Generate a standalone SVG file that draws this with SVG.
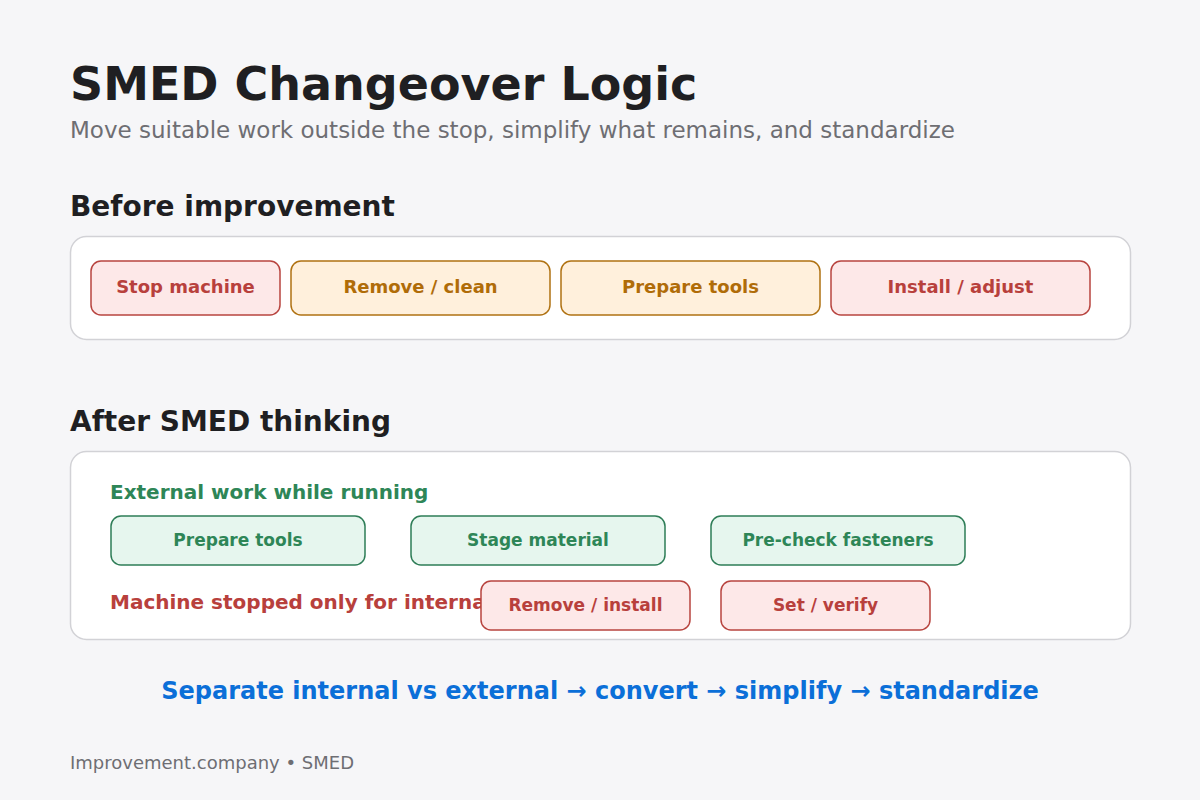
<svg xmlns="http://www.w3.org/2000/svg" width="1200" height="800" viewBox="0 0 1200 800">
<style>
text{font-family:"DejaVu Sans","Liberation Sans",sans-serif}
.title{font-size:46px;font-weight:bold;fill:#1f1f22}
.sub{font-size:23px;fill:#6e6e73}
.h2{font-size:28px;font-weight:bold;fill:#1f1f22}
.panel{fill:#ffffff;stroke:#d2d2d6;stroke-width:1.5}
.red rect{fill:#fde8e8;stroke:#b8443f;stroke-width:1.5}
.red text{fill:#b8403c}
.amb rect{fill:#fff0dc;stroke:#b07212;stroke-width:1.5}
.amb text{fill:#b06c08}
.grn rect{fill:#e6f6ee;stroke:#2e7d57;stroke-width:1.5}
.grn text{fill:#2e8657}
.lbl{font-size:18px;font-weight:bold;text-anchor:middle}
.lbl2{font-size:17px;font-weight:bold;text-anchor:middle}
.cap{font-size:20px;font-weight:bold}
</style>
<rect x="0" y="0" width="1200" height="800" fill="#f6f6f8"/>
<text class="title" x="70" y="100">SMED Changeover Logic</text>
<text class="sub" x="70" y="138">Move suitable work outside the stop, simplify what remains, and standardize</text>

<text class="h2" x="70" y="216">Before improvement</text>
<rect class="panel" x="70.5" y="236.5" width="1060" height="103" rx="16"/>
<g id="b-stop" class="red"><rect x="91" y="261" width="189" height="54" rx="10"/><text class="lbl" x="185.5" y="293">Stop machine</text></g>
<g id="b-remove" class="amb"><rect x="291" y="261" width="259" height="54" rx="10"/><text class="lbl" x="420.5" y="293">Remove / clean</text></g>
<g id="b-prepare" class="amb"><rect x="561" y="261" width="259" height="54" rx="10"/><text class="lbl" x="690.5" y="293">Prepare tools</text></g>
<g id="b-install" class="red"><rect x="831" y="261" width="259" height="54" rx="10"/><text class="lbl" x="960.5" y="293">Install / adjust</text></g>

<text class="h2" x="70" y="431">After SMED thinking</text>
<rect class="panel" x="70.5" y="451.5" width="1060" height="188" rx="16"/>
<text class="cap" x="110" y="499" fill="#2e8657">External work while running</text>
<g id="a-prepare" class="grn"><rect x="111" y="516" width="254" height="49" rx="10"/><text class="lbl2" x="238" y="546">Prepare tools</text></g>
<g id="a-stage" class="grn"><rect x="411" y="516" width="254" height="49" rx="10"/><text class="lbl2" x="538" y="546">Stage material</text></g>
<g id="a-precheck" class="grn"><rect x="711" y="516" width="254" height="49" rx="10"/><text class="lbl2" x="838" y="546">Pre-check fasteners</text></g>
<text class="cap" x="110" y="609" fill="#b8403c">Machine stopped only for internal work</text>
<g id="a-remove" class="red"><rect x="481" y="581" width="209" height="49" rx="10"/><text class="lbl2" x="585.5" y="611">Remove / install</text></g>
<g id="a-set" class="red"><rect x="721" y="581" width="209" height="49" rx="10"/><text class="lbl2" x="825.5" y="611">Set / verify</text></g>
<g id="connectors"/>

<text x="600" y="699" text-anchor="middle" font-size="24" font-weight="bold" fill="#0b6fd8">Separate internal vs external → convert → simplify → standardize</text>
<text x="70" y="769" font-size="18" fill="#6e6e73">Improvement.company • SMED</text>
</svg>
